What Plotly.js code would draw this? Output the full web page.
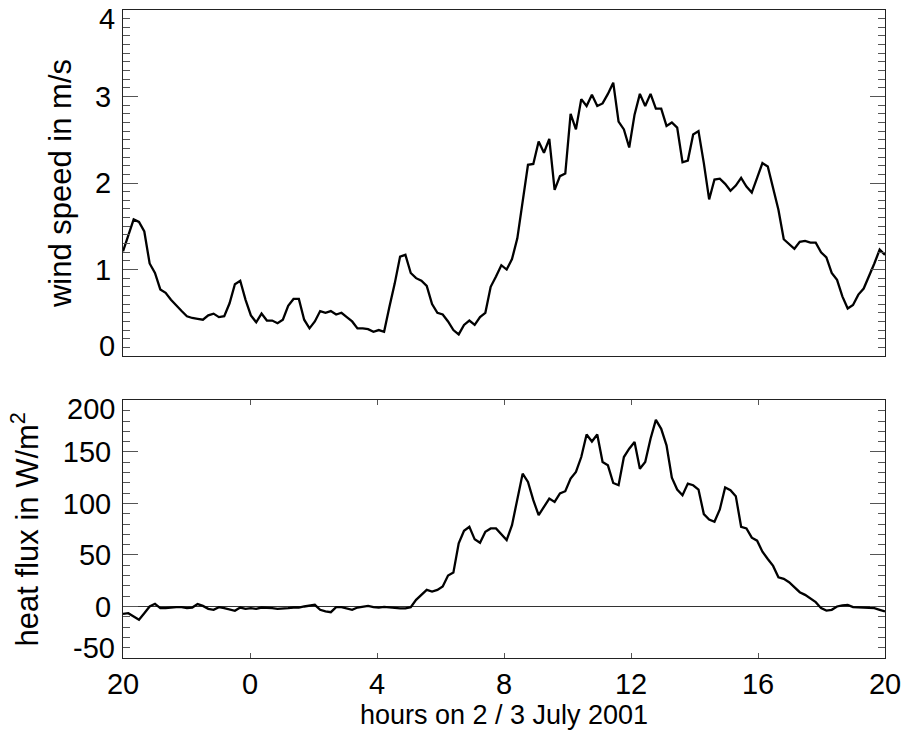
<!DOCTYPE html>
<html><head><meta charset="utf-8">
<script src="https://cdn.plot.ly/plotly-3.0.1.min.js"></script>
<style>html,body{margin:0;padding:0;background:#fff}#chart{width:904px;height:738px}</style>
</head><body><div id="chart"></div>
<script>
const startHour = 20;
const spanHours = 24;

const windSpeed = [
1.21,1.40,1.58,1.55,1.44,1.07,0.96,0.77,0.73,0.65,
0.58,0.52,0.46,0.44,0.43,0.42,0.47,0.49,0.45,0.46,
0.61,0.83,0.87,0.65,0.47,0.39,0.49,0.41,0.41,0.38,
0.42,0.58,0.66,0.66,0.42,0.32,0.40,0.52,0.50,0.52,
0.48,0.50,0.45,0.40,0.32,0.32,0.31,0.28,0.30,0.28,
0.57,0.84,1.15,1.17,0.96,0.90,0.87,0.81,0.60,0.50,
0.48,0.40,0.30,0.25,0.36,0.41,0.36,0.45,
0.50,0.80,0.92,1.05,1.00,1.12,1.36,1.77,2.21,2.22,
2.48,2.35,2.51,1.92,2.08,2.11,2.80,2.62,2.97,2.89,
3.02,2.89,2.92,3.03,3.16,2.71,2.62,2.41,2.79,3.03,
2.89,3.03,2.86,2.86,2.66,2.70,2.64,2.24,2.26,2.56,
2.60,2.23,1.81,2.04,2.05,1.99,1.91,1.97,2.06,1.96,
1.89,2.06,2.23,2.19,1.94,1.69,1.35,1.30,1.24,1.32,
1.33,1.31,1.31,1.20,1.14,0.96,0.88,0.69,0.55,0.59,
0.71,0.78,0.92,1.07,1.23,1.17
];

const heatFlux = [
-7.1,-6.5,-9.7,-12.9,-6.5,0,2.6,-1.6,-1.6,-1,
-0.6,-0.6,-1.6,-1,2.3,0.6,-2.3,-3.2,-0.6,-1.6,
-3.2,-4.2,-1,-2.3,-1.6,-2.3,-1,-1,-1.6,-2.3,
-2.3,-1.6,-1,-1,0,0.6,1.6,-3.2,-4.8,-5.5,
-0.6,-0.6,-1.6,-3.2,-1,0,0.6,-0.6,-1,-0.3,
-1,-1.6,-1.9,-1.9,-0.6,6.5,11.3,16.1,14.5,16.1,
19.4,30.0,32.9,61.3,73.5,77.4,65.2,61.9,
72.5,75.8,75.8,70.3,64.5,79.0,103.2,129.0,120.9,103.2,
88.7,96.7,104.8,101.5,109.7,111.9,124.2,130.6,145.1,167.0,
160.2,167.0,140.2,137.0,119.9,117.7,145.1,153.2,159.6,133.8,
140.2,162.9,181.2,172.5,156.4,125.1,113.5,108.0,119.3,117.7,
113.5,89.7,84.5,82.2,94.2,115.5,112.9,107.1,77.4,75.8,
66.8,63.9,53.2,46.1,39.4,28.4,26.8,23.6,18.7,13.9,
11.3,8.1,4.2,-1.6,-3.9,-3.2,0,1.0,1.6,-0.6,
-1,-1,-1.3,-1.6,-3.2,-4.8
];

const xTickVals = [20,24,28,32,36,40,44];
const xTickText = ['20','0','4','8','12','16','20'];
// inner y ticks are drawn by the axes; the end values sit on the frame and are written just inside it
const windTickVals = [1,2,3];
const windTickText = ['1','2','3'];
const windEndVals = [0,4];
const windEndText = ['0','4'];
const fluxTickVals = [0,50,100,150];
const fluxTickText = ['0','50','100','150'];
const fluxEndVals = [-50,200];
const fluxEndText = ['-50','200'];

const xTitle = 'hours on 2 / 3 July 2001';
const windTitle = 'wind speed in m/s';
const fluxTitle = 'heat flux in W/m<sup>2</sup>';

const hours = windSpeed.map((_, i) => startHour + i * spanHours / (windSpeed.length - 1));

const FAMILY = 'Liberation Sans, Arial, Helvetica, sans-serif';
const TICKFONT = {family: FAMILY, size: 29, color: '#000'};
const YTITLEFONT = {family: FAMILY, size: 31, color: '#000'};
const XTITLEFONT = {family: FAMILY, size: 27, color: '#000'};
const LINE = '#222';
const TICK = '#555';

const traces = [
  {x: hours, y: windSpeed, xaxis: 'x', yaxis: 'y', type: 'scatter', mode: 'lines',
   line: {color: '#000', width: 2.3}, hoverinfo: 'skip'},
  {x: hours, y: heatFlux, xaxis: 'x2', yaxis: 'y2', type: 'scatter', mode: 'lines',
   line: {color: '#000', width: 2.3}, hoverinfo: 'skip'}
];

const yCommon = {
  showline: true, linecolor: LINE, linewidth: 1, mirror: 'ticks',
  ticks: 'inside', ticklen: 15, tickwidth: 1, tickcolor: TICK,
  showgrid: false, tickfont: TICKFONT, ticklabelstandoff: 5
};

function endAnnots(yref, vals, texts) {
  return [
    {xref: 'paper', yref: yref, x: 0, y: vals[0], text: texts[0],
     xanchor: 'right', yanchor: 'middle', xshift: -6, yshift: 10, showarrow: false, font: TICKFONT},
    {xref: 'paper', yref: yref, x: 0, y: vals[1], text: texts[1],
     xanchor: 'right', yanchor: 'middle', xshift: -6, yshift: -9, showarrow: false, font: TICKFONT}
  ];
}

const layout = {
  width: 904, height: 738,
  margin: {l: 123, r: 19, t: 10, b: 80},
  paper_bgcolor: '#fff', plot_bgcolor: '#fff',
  showlegend: false,
  font: TICKFONT,
  xaxis: {
    domain: [0, 1], anchor: 'y', range: [20, 44],
    showline: true, linecolor: LINE, linewidth: 1, mirror: true,
    ticks: '', showticklabels: false, showgrid: false, zeroline: false
  },
  yaxis: Object.assign({}, yCommon, {
    domain: [0.466, 1], anchor: 'x', range: [0, 4],
    tickmode: 'array', tickvals: windTickVals, ticktext: windTickText,
    minor: {tick0: 0, dtick: 0.1, ticks: 'inside', ticklen: 7, tickwidth: 1, tickcolor: TICK, showgrid: false},
    zeroline: false,
    title: {text: windTitle, font: YTITLEFONT, standoff: 14}
  }),
  xaxis2: {
    domain: [0, 1], anchor: 'y2', range: [20, 44],
    showline: true, linecolor: LINE, linewidth: 1, mirror: 'ticks',
    ticks: 'inside', ticklen: 5, tickwidth: 1, tickcolor: TICK,
    tickmode: 'array', tickvals: xTickVals, ticktext: xTickText, tickfont: TICKFONT,
    showgrid: false, zeroline: false,
    title: {text: xTitle, font: XTITLEFONT, standoff: 6}
  },
  yaxis2: Object.assign({}, yCommon, {
    domain: [0, 0.3974], anchor: 'x2', range: [-50, 200],
    tickmode: 'array', tickvals: fluxTickVals, ticktext: fluxTickText,
    minor: {tick0: 0, dtick: 10, ticks: 'inside', ticklen: 7, tickwidth: 1, tickcolor: TICK, showgrid: false},
    zeroline: true, zerolinecolor: '#333', zerolinewidth: 1,
    title: {text: fluxTitle, font: YTITLEFONT, standoff: 14}
  }),
  annotations: endAnnots('y', windEndVals, windEndText).concat(endAnnots('y2', fluxEndVals, fluxEndText))
};

Plotly.newPlot('chart', traces, layout, {staticPlot: true, displayModeBar: false});
</script>
</body></html>
